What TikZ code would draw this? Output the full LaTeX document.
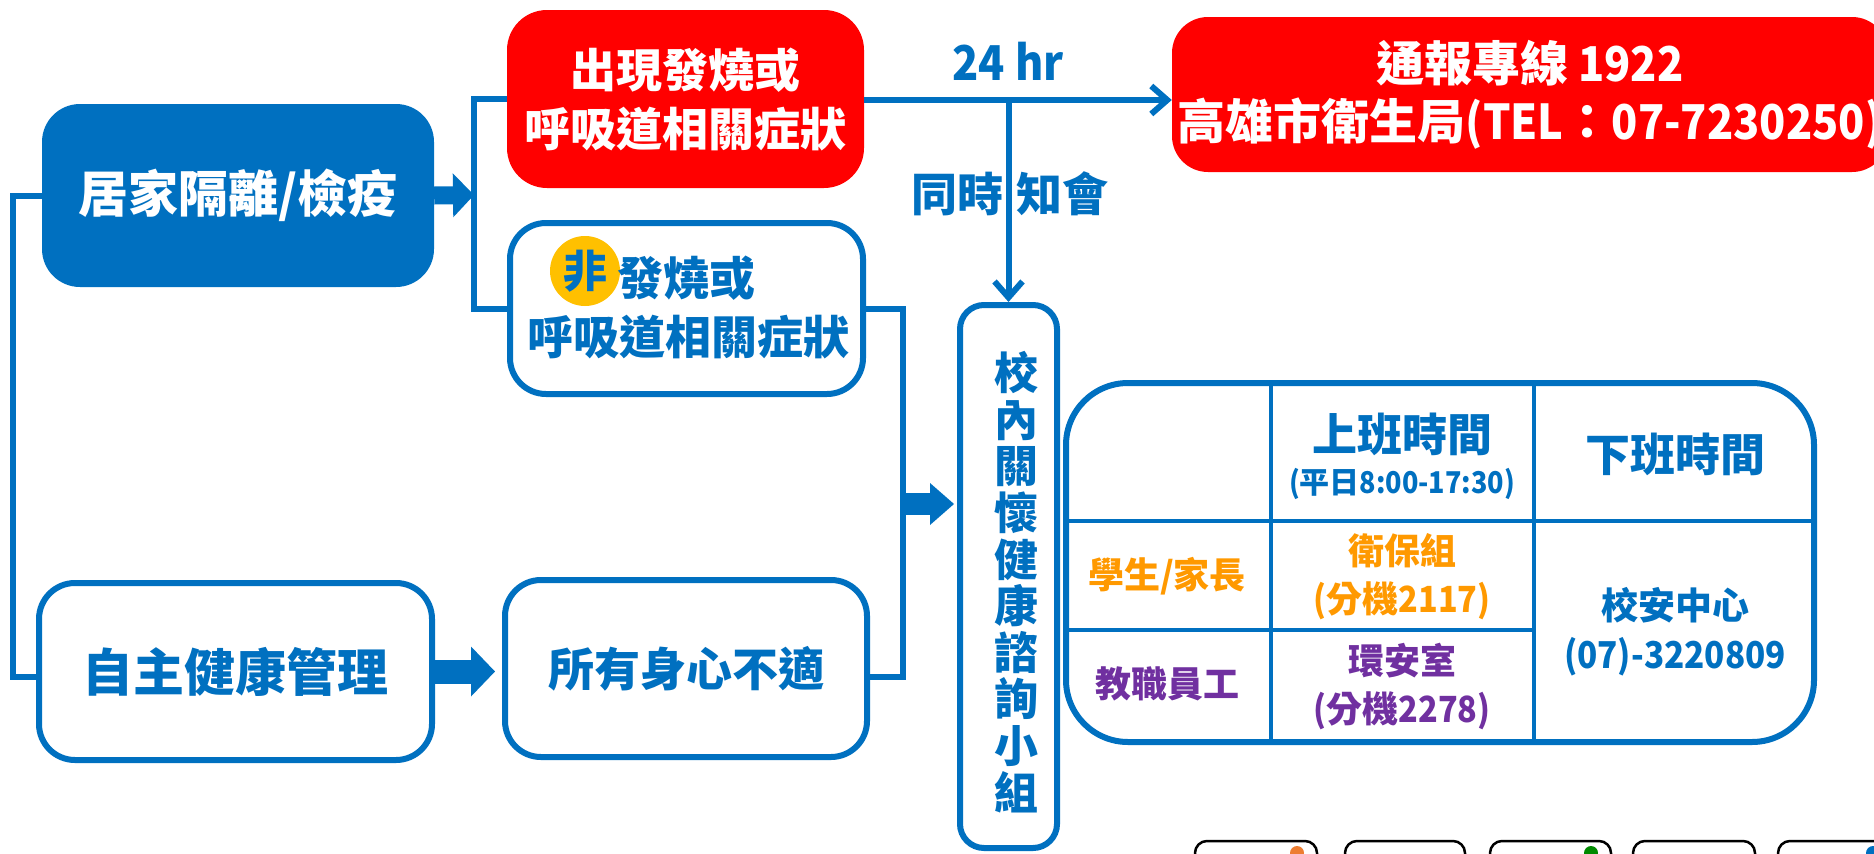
\documentclass[tikz,border=0pt]{standalone}
\usepackage{fontspec}
\setmainfont{Noto Sans CJK TC}
\newfontfamily\narrowf{Noto Sans CJK TC}[FakeStretch=0.9]
\usetikzlibrary{arrows.meta,calc}
\definecolor{myblue}{HTML}{0070C0}
\definecolor{myred}{HTML}{FF0000}
\definecolor{myorange}{HTML}{FF9900}
\definecolor{mypurple}{HTML}{7030A0}
\definecolor{myyellow}{HTML}{FFC000}
\definecolor{dotorange}{HTML}{ED7D31}
\definecolor{dotgreen}{HTML}{008A00}
\newcommand\fsz[2]{\fontsize{#1pt}{#2pt}\selectfont\bfseries}
\newcommand\nl[1]{{\narrowf #1}}
\begin{document}
\begin{tikzpicture}[x=1pt,y=-1pt,
  wbox/.style={draw=myblue, line width=6pt, fill=white, rounded corners=36pt, inner sep=0pt, text=myblue, align=center},
  redbox/.style={fill=myred, rounded corners=40pt, inner sep=0pt, text=white, align=center},
  lbl/.style={inner sep=0pt, align=center},
  conn/.style={draw=myblue, line width=6pt},
  barb/.style={-{Straight Barb[length=16pt,width=28pt]}},
  tline/.style={draw=myblue, line width=3.5pt},
  frag/.style={draw=black, line width=2.5pt, rounded corners=12pt}
]
\path[use as bounding box] (0,0) rectangle (1874,854);
\clip (0,0) rectangle (1874,854);

% bottom fragments
\foreach \a/\b in {1195/1317,1345/1465,1490/1611,1633/1755,1778/1920}
  \draw[frag] (\a,841) rectangle (\b,900);
\fill[dotorange] (1297,853) circle (7pt);
\fill[dotgreen] (1591,853) circle (7pt);
\fill[myblue] (1873,853) circle (7pt);

% boxes
\node[fill=myblue, rounded corners=38pt, minimum width=392pt, minimum height=183pt, inner sep=0pt, text=white, font=\fsz{50}{60}] (home) at (238,195.5) {居家隔離/檢疫};
\node[redbox, minimum width=357pt, minimum height=178pt, font=\fsz{46}{59}] (fever) at (685.5,99) {出現發燒或\\呼吸道相關症狀};
\node[wbox, minimum width=353pt, minimum height=171pt] (nonfever) at (686.5,308.5) {};
\node[circle, fill=myyellow, minimum size=70pt, inner sep=0pt, text=myblue, font=\fsz{44}{50}] (fei) at (585,271) {非};
\node[lbl, anchor=west, text=myblue, font=\fsz{46}{56}] (fevert) at (617,278) {發燒或};
\node[lbl, text=myblue, font=\fsz{46}{56}] (resp) at (688,337) {呼吸道相關症狀};

\node[wbox, minimum width=393pt, minimum height=177pt, font=\fsz{51}{60}] (selfm) at (235.5,671.5) {自主健康管理};
\node[wbox, minimum width=362pt, minimum height=177pt, font=\fsz{46}{56}] (allb) at (686,668.5) {所有身心不適};

\node[redbox, rounded corners=36pt, minimum width=716pt, minimum height=155pt, font=\fsz{48}{58}] (report) at (1530,94.5) {通報專線\nl{ 1922}\\高雄市衛生局\nl{(TEL}：\nl{07-7230250)}};

\node[wbox, rounded corners=24pt, minimum width=97pt, minimum height=543pt] (care) at (1008.5,576.5) {};
\node[lbl, text=myblue, font=\fsz{44}{46.6}] (caret) at (1016,582) {校\\內\\關\\懷\\健\\康\\諮\\詢\\小\\組};

% table
\node[wbox, rounded corners=62pt, minimum width=748pt, minimum height=359pt] (tbl) at (1440,562.5) {};
\coordinate (c1) at (1271,0);
\coordinate (c2) at (1534,0);
\coordinate (r1) at (0,521);
\coordinate (r2) at (0,630);
\draw[tline] (c1 |- tbl.north) -- (c1 |- tbl.south);
\draw[tline] (c2 |- tbl.north) -- (c2 |- tbl.south);
\draw[tline] (tbl.west |- r1) -- (tbl.east |- r1);
\draw[tline] (tbl.west |- r2) -- (c2 |- r2);

\node[lbl, text=myblue, font=\fsz{45}{50}] (up1) at (1402,434) {上班時間};
\node[lbl, text=myblue, font=\fsz{30}{36}] (up2) at (1402,484) {\nl{(}平日\nl{8:00-17:30)}};
\node[lbl, text=myblue, font=\fsz{45}{50}] (down) at (1675,454) {下班時間};
\node[lbl, text=myorange, font=\fsz{36}{48}] (stu) at (1167,576) {學生/家長};
\node[lbl, text=mypurple, font=\fsz{36}{48}] (stf) at (1167,684) {教職員工};
\node[lbl, text=myorange, font=\fsz{36}{48}] (hs1) at (1402,577) {衛保組\\\nl{(}分機\nl{2117)}};
\node[lbl, text=mypurple, font=\fsz{36}{48}] (hs2) at (1402,687) {環安室\\\nl{(}分機\nl{2278)}};
\node[lbl, text=myblue, font=\fsz{37}{49}] (night) at (1675,632) {校安中心\\\nl{(07)-3220809}};

% connectors
\coordinate (br) at (474,195);
\coordinate (lf) at (13,400);
\coordinate (rt) at (903,500);
\coordinate (ra) at (903,504);

\draw[conn] (fever.west) -| (br) |- (nonfever.west);
\draw[myblue, line width=18pt, -{Triangle[length=21pt,width=44pt,line width=0pt]}] (home.east) -- (br);
\draw[conn] (home.west) -| (lf) |- ([yshift=-5pt]selfm.west);
\draw[conn] (nonfever.east) -| (rt) |- ([yshift=-8.5pt]allb.east);
\draw[myblue, line width=24pt, -{Triangle[length=24pt,width=50pt,line width=0pt]}, shorten >=7pt] (selfm.east) -- (selfm.east -| allb.west);
\draw[myblue, line width=22pt, -{Triangle[length=24pt,width=42pt,line width=0pt]}, shorten >=3pt] (ra) -- (ra -| care.west);

\draw[conn, barb] ([yshift=-1pt]fever.east) -- ([yshift=-1pt]fever.east -| report.west);
\draw[conn, barb] ([yshift=-1pt]fever.east -| care.north) -- (care.north);
\node[lbl, text=myblue, font=\fsz{48}{56}] (hr) at (1008,61) {\nl{24 hr}};
\node[lbl, text=myblue, font=\fsz{46}{56}] (notify) at (1010,194) {同時\hspace{14pt}知會};
\end{tikzpicture}
\end{document}
